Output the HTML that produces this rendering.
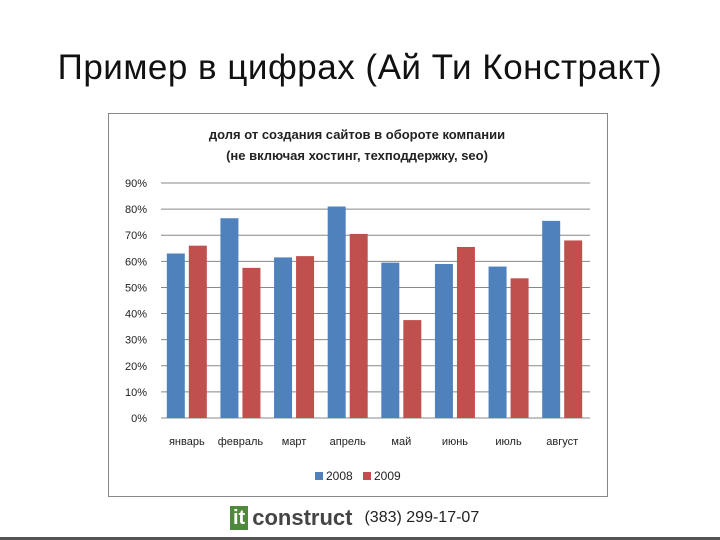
<!DOCTYPE html>
<html><head><meta charset="utf-8"><style>
body{margin:0;background:#fff}
#wrap{position:relative;width:720px;height:540px;overflow:hidden;font-family:"Liberation Sans",sans-serif}
</style></head><body>
<div id="wrap">
<div style="position:absolute;left:0;width:720px;top:48px;text-align:center;font-size:35px;letter-spacing:0.5px;color:#111">Пример в цифрах (Ай Ти Констракт)</div>
<svg id="chart" width="720" height="540" style="position:absolute;left:0;top:0"></svg>
<div style="position:absolute;left:230px;top:506px;height:24px;display:flex;align-items:center">
<span style="background:#4f8a3c;color:#fff;font-weight:bold;font-size:20px;padding:0 3px;line-height:24px">it</span>
<span style="color:#444;font-weight:bold;font-size:22px;margin-left:4px">construct</span>
<span style="color:#222;font-size:16px;margin-left:12px">(383) 299-17-07</span>
</div>
<div style="position:absolute;left:0;top:537px;width:720px;height:3px;background:#555"></div>
</div>
<script>
const categories=["январь","февраль","март","апрель","май","июнь","июль","август"];
const series2008=[63,76.5,61.5,81,59.5,59,58,75.5];
const series2009=[66,57.5,62,70.5,37.5,65.5,53.5,68];
const ticks=[0,10,20,30,40,50,60,70,80,90];
const NS="http://www.w3.org/2000/svg";
const svg=document.getElementById('chart');
function mk(t,a,p){const e=document.createElementNS(NS,t);for(const k in a)e.setAttribute(k,a[k]);(p||svg).appendChild(e);return e;}
const X0=161,X1=590,Y0=418,Y1=183;
const y=v=>Y0-(v/90)*(Y0-Y1);
const cw=(X1-X0)/categories.length;
const box=mk('rect',{x:108.5,y:113.5,width:499,height:383,fill:'#fff',stroke:'#888'});

const t1=mk('text',{x:357,y:139,'text-anchor':'middle','font-size':13,'font-weight':'bold',fill:'#222'});

t1.textContent='доля от создания сайтов в обороте компании';
const t2=mk('text',{x:357,y:160,'text-anchor':'middle','font-size':13,'font-weight':'bold',fill:'#222'});

t2.textContent='(не включая хостинг, техподдержку, seo)';
ticks.forEach(v=>{
 const l=mk('line',{x1:X0,x2:X1,y1:y(v),y2:y(v),stroke:'#888','stroke-width':1});
 
 const t=mk('text',{x:147,y:y(v)+4,'text-anchor':'end','font-size':11,fill:'#222'});
 
 t.textContent=v+'%';
});
categories.forEach((c,i)=>{
 const cx=X0+cw*i+cw/2;
 const b1=mk('rect',{x:cx-21,y:y(series2008[i]),width:18,height:Y0-y(series2008[i]),fill:'#4f81bd'});
 
 const b2=mk('rect',{x:cx+1,y:y(series2009[i]),width:18,height:Y0-y(series2009[i]),fill:'#c0504d'});
 
 const t=mk('text',{x:cx-1,y:445,'text-anchor':'middle','font-size':11,fill:'#222'});
 
 t.textContent=c;
});
[['2008','#4f81bd',315],['2009','#c0504d',363]].forEach(([n,c,x])=>{
 const r=mk('rect',{x:x,y:472,width:8,height:8,fill:c});
 
 const t=mk('text',{x:x+11,y:480,'font-size':12,fill:'#222'});
 
 t.textContent=n;
});
</script>
</body></html>
